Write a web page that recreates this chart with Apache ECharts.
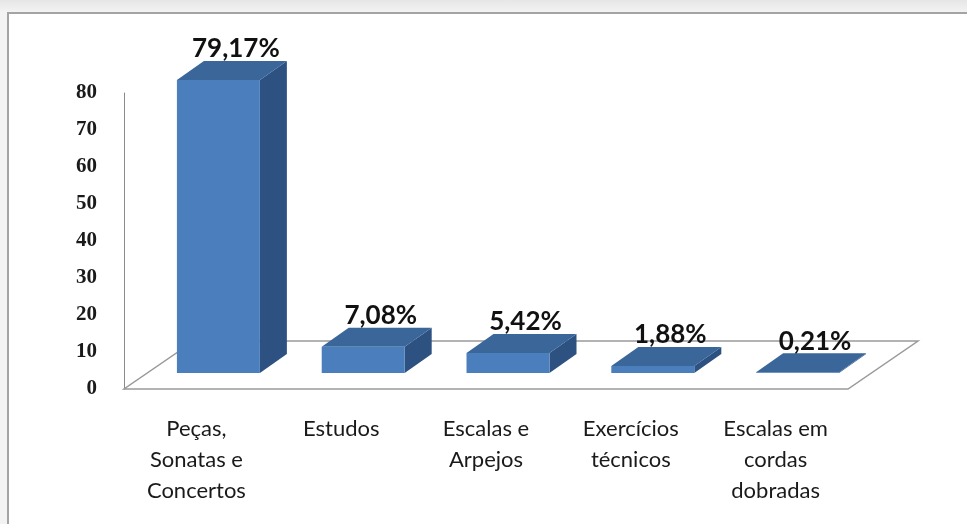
<!DOCTYPE html>
<html>
<head>
<meta charset="utf-8">
<script src="https://cdn.jsdelivr.net/npm/echarts@6/dist/echarts.min.js"></script>
<style>
  html, body { margin: 0; padding: 0; width: 967px; height: 524px; overflow: hidden;
    background: linear-gradient(to bottom, #e6e6e6 0px, #f3f3f3 12px, #f3f3f3 100%); }
  #frame { position: absolute; left: 7px; top: 12px; width: 1000px; height: 600px;
    background: #ffffff; border-top: 2px solid #a4a4a4; border-left: 2px solid #a4a4a4; }
  #chart { position: absolute; left: 0; top: 0; width: 967px; height: 524px; }
</style>
</head>
<body>
<div id="frame"></div>
<div id="chart"></div>
<script>
// Categories (multi-line axis labels) and their percentage shares
const categories = [
  'Peças,\nSonatas e\nConcertos',
  'Estudos',
  'Escalas e\nArpejos',
  'Exercícios\ntécnicos',
  'Escalas em\ncordas\ndobradas'
];
const shares = [79.17, 7.08, 5.42, 1.88, 0.21];
const yTicks = { min: 0, max: 80, step: 10 };

// Pseudo-3D geometry (pixels)
const FLOOR_DX = 70, FLOOR_DY = -48;   // depth of the floor plate
const FRONT_DX = 22, FRONT_DY = -16;   // where the bar front faces sit inside the floor
const BAR_DX = 27, BAR_DY = -19;       // depth of each bar
const BAR_RATIO = 0.573;               // bar width relative to the category band

const COLORS = { front: '#4a7ebd', top: '#3a6699', side: '#2d5282' };

function fmtPct(v) { return v.toFixed(2).replace('.', ',') + '%'; }

const chart = echarts.init(document.getElementById('chart'), null, { renderer: 'canvas' });

chart.setOption({
  backgroundColor: 'transparent',
  animation: false,
  grid: { left: 124, top: 93, width: 724, height: 296 },
  xAxis: {
    type: 'category',
    data: categories,
    axisLine: { show: false },
    axisTick: { show: false },
    axisLabel: {
      margin: 24,
      interval: 0,
      fontFamily: 'Lato',
      fontSize: 22,
      lineHeight: 31,
      color: '#1a1a1a',
      align: 'center'
    }
  },
  yAxis: {
    type: 'value',
    min: yTicks.min,
    max: yTicks.max,
    interval: yTicks.step,
    axisLine: { show: true, lineStyle: { color: '#8c8c8c', width: 1 } },
    axisTick: { show: false },
    splitLine: { show: false },
    axisLabel: {
      margin: 27,
      fontFamily: 'Liberation Serif',
      fontWeight: 'bold',
      fontSize: 21,
      color: '#1a1a1a'
    }
  },
  series: [
    {
      // floor plate under the bars
      type: 'custom',
      z: 1,
      data: [0],
      renderItem: function (params, api) {
        if (params.dataIndex !== 0) return;
        const cs = params.coordSys;
        const x0 = cs.x, x1 = cs.x + cs.width, y = cs.y + cs.height;
        return {
          type: 'polygon',
          shape: { points: [[x0, y], [x1, y], [x1 + FLOOR_DX, y + FLOOR_DY], [x0 + FLOOR_DX, y + FLOOR_DY]] },
          style: { fill: '#ffffff', stroke: '#9a9a9a', lineWidth: 1.5 }
        };
      }
    },
    {
      // 3D bars with value labels
      type: 'custom',
      z: 3,
      data: shares.map((v, i) => [i, v]),
      encode: { x: 0, y: 1 },
      renderItem: function (params, api) {
        const idx = api.value(0);
        const val = api.value(1);
        const base = api.coord([idx, 0]);
        const top = api.coord([idx, val]);
        const band = api.size([1, 0])[0];
        const w = band * BAR_RATIO;
        const fx = base[0] + FRONT_DX - w / 2;
        const by = base[1] + FRONT_DY;
        const ty = top[1] + FRONT_DY;
        const children = [
          {
            type: 'polygon',
            shape: { points: [[fx + w, ty], [fx + w + BAR_DX, ty + BAR_DY], [fx + w + BAR_DX, by + BAR_DY], [fx + w, by]] },
            style: { fill: COLORS.side }
          },
          {
            type: 'polygon',
            shape: { points: [[fx, ty], [fx + w, ty], [fx + w + BAR_DX, ty + BAR_DY], [fx + BAR_DX, ty + BAR_DY]] },
            style: { fill: COLORS.top }
          },
          {
            type: 'rect',
            shape: { x: fx, y: ty, width: w, height: Math.max(by - ty, 0) },
            style: { fill: COLORS.front }
          },
          {
            type: 'text',
            style: {
              text: fmtPct(val),
              x: fx + w / 2 + BAR_DX / 2 + 4,
              y: ty + BAR_DY - 12,
              align: 'center',
              verticalAlign: 'middle',
              fontFamily: 'Lato',
              fontWeight: 'bold',
              fontSize: 26,
              fill: '#111111'
            }
          }
        ];
        return { type: 'group', children: children };
      }
    }
  ]
});
</script>
</body>
</html>
